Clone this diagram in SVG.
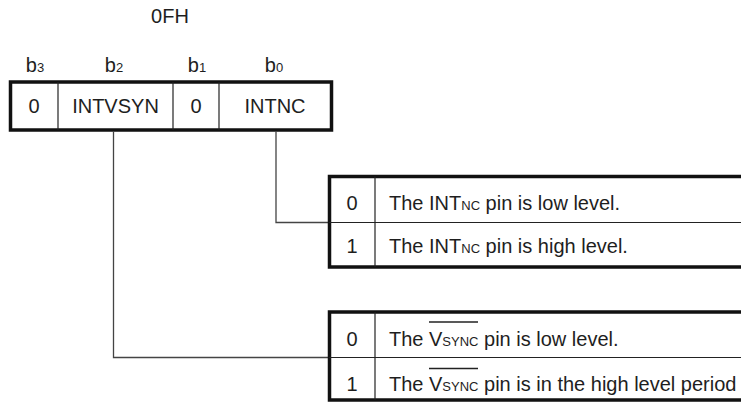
<svg xmlns="http://www.w3.org/2000/svg" width="741" height="403" viewBox="0 0 741 403">
<style>
text{font-family:"Liberation Sans",Arial,sans-serif;font-size:20px;fill:#1e1e1e}
.c{text-anchor:middle}
.s{font-size:13px}
.box{fill:none;stroke:#111;stroke-width:3.5}
.div{stroke:#222;stroke-width:1.2}
.con{fill:none;stroke:#444;stroke-width:1.3}
.ov{stroke:#222;stroke-width:1.3}
</style>
<rect width="741" height="403" fill="#fff"/>
<g id="title"><text class="c" x="170" y="23">0FH</text></g>
<g id="bits">
<text class="c" x="35" y="72">b<tspan class="s">3</tspan></text>
<text class="c" x="114" y="72">b<tspan class="s">2</tspan></text>
<text class="c" x="197" y="72">b<tspan class="s">1</tspan></text>
<text class="c" x="274" y="72">b<tspan class="s">0</tspan></text>
</g>
<g id="register">
<rect class="box" x="10.5" y="82" width="321" height="48"/>
<line class="div" x1="58" y1="82" x2="58" y2="130"/>
<line class="div" x1="173" y1="82" x2="173" y2="130"/>
<line class="div" x1="219" y1="82" x2="219" y2="130"/>
<text class="c" x="34" y="113">0</text>
<text class="c" x="115.5" y="113">INTVSYN</text>
<text class="c" x="196" y="113">0</text>
<text class="c" x="275" y="113">INTNC</text>
</g>
<g id="connectors">
<polyline class="con" points="276,131 276,222.5 329,222.5"/>
<polyline class="con" points="113.5,131 113.5,357.5 329,357.5"/>
</g>
<g id="table-intnc">
<rect class="box" x="329.5" y="176.5" width="430" height="90.5"/>
<line class="div" x1="329" y1="222.5" x2="741" y2="222.5"/>
<line class="div" x1="375" y1="176.5" x2="375" y2="267"/>
<text class="c" x="352" y="210">0</text>
<text x="389" y="210">The INT<tspan class="s">NC</tspan> pin is low level.</text>
<text class="c" x="352" y="253">1</text>
<text x="389" y="253">The INT<tspan class="s">NC</tspan> pin is high level.</text>
</g>
<g id="table-vsync">
<rect class="box" x="329.5" y="312" width="430" height="88"/>
<line class="div" x1="329" y1="357.5" x2="741" y2="357.5"/>
<line class="div" x1="375" y1="312" x2="375" y2="400"/>
<text class="c" x="352" y="346">0</text>
<text x="389" y="346">The V<tspan class="s">SYNC</tspan> pin is low level.</text>
<line class="ov" x1="429" y1="322" x2="478" y2="322"/>
<text class="c" x="352" y="391">1</text>
<text x="389" y="391">The V<tspan class="s">SYNC</tspan> pin is in the high level period</text>
<line class="ov" x1="429" y1="368.5" x2="478" y2="368.5"/>
</g>
</svg>
